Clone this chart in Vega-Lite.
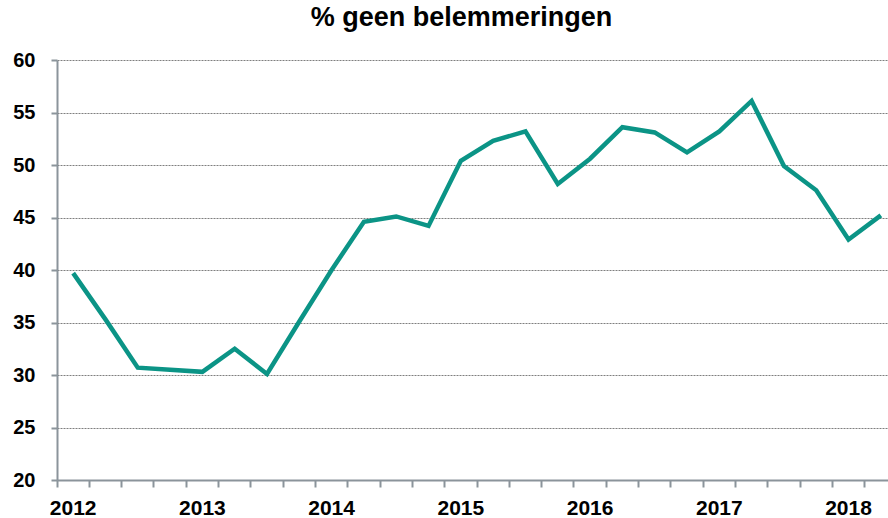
{
  "$schema": "https://vega.github.io/schema/vega-lite/v6.json",
  "autosize": {"type": "none"},
  "width": 831,
  "height": 420,
  "padding": {"left": 57, "top": 60, "right": 0, "bottom": 38},
  "background": "white",
  "title": {
    "text": "% geen belemmeringen",
    "font": "Liberation Sans",
    "fontSize": 27,
    "fontWeight": "bold",
    "color": "#000000",
    "anchor": "middle",
    "dx": -11,
    "baseline": "alphabetic",
    "offset": -3
  },
  "config": {
    "view": {"stroke": null},
    "axis": {
      "labelFont": "Liberation Sans",
      "labelFontSize": 20,
      "labelFontWeight": "bold",
      "labelColor": "#000000",
      "domainColor": "#8b949b",
      "domainWidth": 2,
      "tickColor": "#8b949b",
      "tickWidth": 2
    }
  },
  "data": {
    "values": [
      {"kwartaal": "2012 Q1", "pct": 39.7},
      {"kwartaal": "2012 Q2", "pct": 35.3},
      {"kwartaal": "2012 Q3", "pct": 30.7},
      {"kwartaal": "2012 Q4", "pct": 30.5},
      {"kwartaal": "2013 Q1", "pct": 30.3},
      {"kwartaal": "2013 Q2", "pct": 32.5},
      {"kwartaal": "2013 Q3", "pct": 30.1},
      {"kwartaal": "2013 Q4", "pct": 35.1},
      {"kwartaal": "2014 Q1", "pct": 40.0},
      {"kwartaal": "2014 Q2", "pct": 44.6},
      {"kwartaal": "2014 Q3", "pct": 45.1},
      {"kwartaal": "2014 Q4", "pct": 44.2},
      {"kwartaal": "2015 Q1", "pct": 50.4},
      {"kwartaal": "2015 Q2", "pct": 52.3},
      {"kwartaal": "2015 Q3", "pct": 53.2},
      {"kwartaal": "2015 Q4", "pct": 48.2},
      {"kwartaal": "2016 Q1", "pct": 50.6},
      {"kwartaal": "2016 Q2", "pct": 53.6},
      {"kwartaal": "2016 Q3", "pct": 53.1},
      {"kwartaal": "2016 Q4", "pct": 51.2},
      {"kwartaal": "2017 Q1", "pct": 53.2},
      {"kwartaal": "2017 Q2", "pct": 56.1},
      {"kwartaal": "2017 Q3", "pct": 49.9},
      {"kwartaal": "2017 Q4", "pct": 47.6},
      {"kwartaal": "2018 Q1", "pct": 42.9},
      {"kwartaal": "2018 Q2", "pct": 45.2}
    ]
  },
  "mark": {"type": "line", "color": "#0b9486", "strokeWidth": 4.5, "strokeJoin": "miter", "strokeCap": "butt"},
  "encoding": {
    "x": {
      "field": "kwartaal",
      "type": "ordinal",
      "sort": null,
      "scale": {"type": "band", "range": [0, 840], "paddingInner": 0, "paddingOuter": 0},
      "axis": {
        "title": null,
        "labelAngle": 0,
        "bandPosition": 0,
        "labelFontSize": 21,
        "labelExpr": "substring(datum.value, 5, 7) == 'Q1' ? substring(datum.value, 0, 4) : ''",
        "tickSize": 7,
        "labelPadding": 10,
        "labelOverlap": false,
        "labelFlush": false,
        "grid": false
      }
    },
    "y": {
      "field": "pct",
      "type": "quantitative",
      "scale": {"domain": [20, 60], "nice": false, "zero": false},
      "axis": {
        "title": null,
        "values": [20, 25, 30, 35, 40, 45, 50, 55, 60],
        "tickSize": 6,
        "labelPadding": 16,
        "grid": true,
        "gridColor": "#7f7f7f",
        "gridDash": [2, 1],
        "gridWidth": 1
      }
    }
  }
}
